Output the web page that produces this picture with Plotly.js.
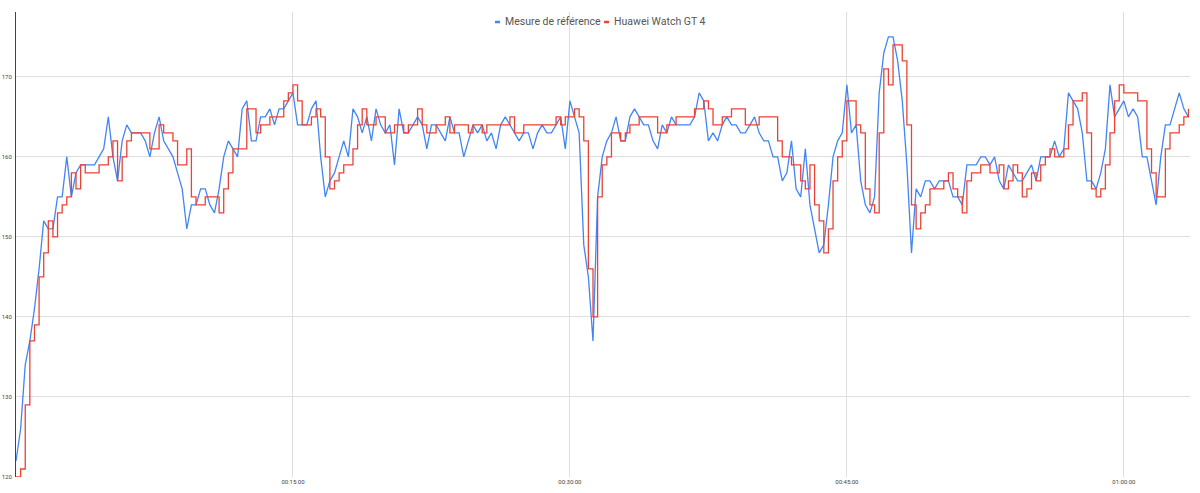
<!DOCTYPE html>
<html>
<head>
<meta charset="utf-8">
<script src="https://cdn.plot.ly/plotly-3.0.1.min.js"></script>
<style>
  html, body { margin: 0; padding: 0; background: #fff; }
  #chart { width: 1200px; height: 493px; }
</style>
</head>
<body>
<div id="chart"></div>
<script>
// heart rate, one reading every 15 s from 00:00:00
var stepSeconds = 15;
var seriesNames = ["Mesure de référence", "Huawei Watch GT 4"];
var tickLabels = ["00:15:00", "00:30:00", "00:45:00", "01:00:00"];
var yTicks = [120, 130, 140, 150, 160, 170];

var referenceHr = [
  122, 126, 134, 137, 141, 146, 152, 151, 151, 155, 155, 160, 155, 158, 159, 159,
  159, 159, 160, 161, 165, 160, 157, 162, 164, 163, 163, 163, 162, 160, 163, 165,
  162, 161, 160, 158, 156, 151, 154, 154, 156, 156, 154, 153, 156, 160, 162, 161,
  160, 166, 167, 162, 162, 165, 165, 166, 164, 166, 166, 167, 168, 164, 164, 164,
  166, 167, 160, 155, 157, 158, 160, 162, 160, 166, 165, 163, 165, 162, 166, 164,
  163, 164, 159, 166, 163, 163, 164, 165, 164, 161, 164, 164, 163, 162, 165, 163,
  163, 160, 162, 164, 163, 164, 162, 163, 161, 164, 165, 164, 163, 162, 163, 163,
  161, 163, 164, 163, 163, 164, 165, 161, 167,
  165, 163, 149, 145, 137, 155, 160, 162, 163, 165, 162, 162, 165, 166, 165, 164,
  164, 162, 161, 164, 163, 165, 164, 164, 164, 164, 165, 168, 167, 162, 163, 162,
  164, 165, 164, 164, 163, 163, 164, 165, 163, 162, 162, 160, 160, 157, 158, 162,
  156, 155, 161, 154, 151, 148, 149, 154, 160, 162, 163, 169, 163, 164, 157, 154,
  153, 155, 168, 173, 175, 175, 172, 167, 159, 148, 156, 155, 157, 157, 156, 157,
  157, 157, 155, 155,
  154, 159, 159, 159, 160, 160, 159, 160, 157, 156, 159, 158, 157, 157, 158, 159,
  157, 160, 160, 160, 162, 160, 161, 168, 167, 166, 163, 157, 157, 156, 158, 161,
  169, 165, 166, 167, 165, 166, 165, 160, 160, 157, 154, 160, 164, 164, 166, 168,
  166, 165
];

var watchHr = [
  120, 121, 129, 137, 139, 145, 148, 152, 150, 153, 154, 155, 158, 156, 159, 158,
  158, 158, 159, 159, 160, 162, 157, 160, 162, 163, 163, 163, 163, 161, 161, 164,
  163, 163, 162, 159, 159, 161, 155, 154, 154, 155, 155, 155, 153, 156, 158, 161,
  161, 161, 166, 166, 163, 164, 164, 165, 165, 165, 167, 168, 169, 167, 164, 164,
  165, 166, 165, 160, 156, 157, 158, 159, 159, 161, 164, 166, 164, 164, 165, 165,
  163, 163, 164, 164, 163, 164, 164, 166, 164, 163, 163, 164, 164, 165, 163, 164,
  164, 164, 163, 164, 164, 163, 164, 164, 164, 164, 164, 165, 163, 163, 164, 164,
  164, 164, 164, 164, 164, 165, 164, 165, 165,
  166, 165, 162, 146, 140, 155, 159, 160, 163, 163, 162, 163, 164, 164, 165, 165,
  165, 165, 163, 163, 164, 164, 165, 165, 165, 165, 166, 166, 167, 166, 164, 164,
  165, 165, 166, 166, 166, 164, 164, 164, 165, 165, 165, 165, 162, 160, 160, 159,
  159, 157, 156, 159, 154, 152, 148, 151, 157, 160, 162, 167, 167, 164, 163, 156,
  154, 153, 163, 171, 169, 174, 174, 172, 164, 154, 151, 153, 154, 156, 156, 156,
  157, 158, 156, 155,
  153, 157, 158, 158, 159, 159, 158, 158, 159, 156, 157, 159, 158, 155, 156, 158,
  157, 159, 160, 161, 160, 160, 161, 164, 167, 167, 168, 163, 156, 155, 156, 159,
  163, 167, 169, 168, 168, 168, 167, 167, 161, 158, 155, 155, 161, 163, 163, 164,
  165, 166
];

var colors = ["#4285f4", "#ea4335"];
var day = "2000-01-01 ";
var font = "Roboto, Arial, sans-serif";

var traces = [referenceHr, watchHr].map(function(vals, i) {
  return {
    type: "scatter",
    mode: "lines",
    name: seriesNames[i],
    x0: day + "00:00:00",
    dx: stepSeconds * 1000,
    y: vals,
    line: { color: colors[i], width: 1.3, shape: i == 1 ? "hv" : "linear" },
    showlegend: false,
    hoverinfo: "skip"
  };
});

// legend at the top centre: a short coloured dash then the name
var legendDashX = [0.408, 0.5009];
var legendTextX = [0.4157, 0.5085];
var legendY = 0.9785;
var legendText = seriesNames.map(function(name, i) {
  return {
    xref: "paper", yref: "paper",
    x: legendTextX[i], y: legendY,
    xanchor: "left", yanchor: "middle",
    showarrow: false,
    borderpad: 0,
    text: name,
    font: { family: font, size: 10.5, color: "#555" }
  };
});
var legendDash = colors.map(function(c, i) {
  return {
    type: "line", xref: "paper", yref: "paper",
    x0: legendDashX[i], x1: legendDashX[i] + 0.0043,
    y0: legendY, y1: legendY,
    line: { color: c, width: 2.5 }
  };
});

var layout = {
  width: 1200,
  height: 493,
  margin: { l: 16, r: 10, t: 12, b: 16 },
  paper_bgcolor: "#fff",
  plot_bgcolor: "#fff",
  showlegend: false,
  xaxis: {
    type: "date",
    range: [day + "00:00:00", day + "01:03:35"],
    tickvals: tickLabels.map(function(t) { return day + t; }),
    ticktext: tickLabels,
    showgrid: true,
    gridcolor: "#dedede",
    gridwidth: 1,
    showline: false,
    zeroline: false,
    ticks: "",
    tickfont: { family: font, size: 6, color: "#444" }
  },
  yaxis: {
    range: [120, 178.1],
    tickvals: yTicks,
    showgrid: true,
    gridcolor: "#dedede",
    gridwidth: 1,
    showline: true,
    linecolor: "#444",
    linewidth: 1,
    zeroline: false,
    ticks: "",
    ticklabelstandoff: 2,
    tickfont: { family: font, size: 6, color: "#444" }
  },
  annotations: legendText,
  shapes: legendDash
};

Plotly.newPlot("chart", traces, layout, { staticPlot: true, displayModeBar: false });
</script>
</body>
</html>
